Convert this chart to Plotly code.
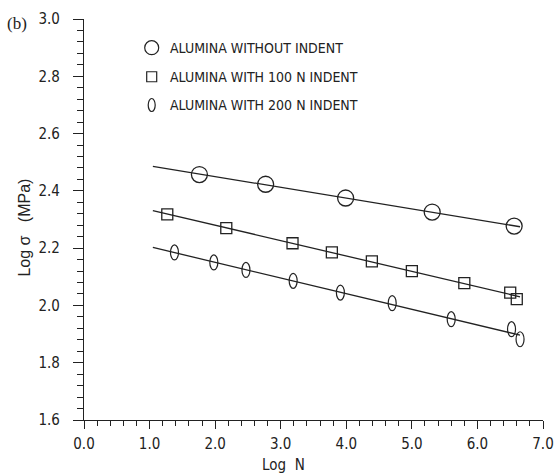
import numpy as np
import plotly.graph_objects as go

# ---- data ----
no_indent_logN = [1.76, 2.77, 3.99, 5.31, 6.56]
no_indent_logS = [2.457, 2.423, 2.375, 2.326, 2.277]

indent100_logN = [1.27, 2.17, 3.18, 3.78, 4.39, 5.00, 5.80, 6.50, 6.60]
indent100_logS = [2.318, 2.270, 2.217, 2.185, 2.154, 2.120, 2.078, 2.045, 2.022]

indent200_logN = [1.38, 1.98, 2.47, 3.19, 3.91, 4.70, 5.60, 6.52, 6.65]
indent200_logS = [2.185, 2.150, 2.124, 2.086, 2.045, 2.008, 1.952, 1.917, 1.882]

fit_range = [1.05, 6.65]

series_names = ["ALUMINA WITHOUT INDENT", "ALUMINA WITH 100 N INDENT", "ALUMINA WITH 200 N INDENT"]

x_ticks = [0, 1, 2, 3, 4, 5, 6, 7]
x_ticklabels = ["0.0", "1.0", "2.0", "3.0", "4.0", "5.0", "6.0", "7.0"]
y_ticks = [1.6, 1.8, 2.0, 2.2, 2.4, 2.6, 2.8, 3.0]
y_ticklabels = ["1.6", "1.8", "2.0", "2.2", "2.4", "2.6", "2.8", "3.0"]

INK = "#222222"
FONT = "Liberation Sans Narrow, DejaVu Sans Condensed, Liberation Sans"

fig = go.Figure()

# fitted lines
for xs, ys in [(no_indent_logN, no_indent_logS),
               (indent100_logN, indent100_logS),
               (indent200_logN, indent200_logS)]:
    k, b = np.polyfit(xs, ys, 1)
    fx = np.array(fit_range)
    fig.add_trace(go.Scatter(x=fx, y=k * fx + b, mode="lines",
                             line=dict(color=INK, width=1.3),
                             showlegend=False, hoverinfo="skip"))

fig.add_trace(go.Scatter(x=no_indent_logN, y=no_indent_logS, mode="markers",
                         name=series_names[0],
                         marker=dict(symbol="circle-open", size=16,
                                     line=dict(color=INK, width=1.3), color=INK),
                         showlegend=False))
fig.add_trace(go.Scatter(x=indent100_logN, y=indent100_logS, mode="markers",
                         name=series_names[1],
                         marker=dict(symbol="square-open", size=11,
                                     line=dict(color=INK, width=1.3), color=INK),
                         showlegend=False))

shapes = []
# ellipse markers for 200 N indent
for xv, yv in zip(indent200_logN, indent200_logS):
    shapes.append(dict(type="circle", xref="x", yref="y",
                       xsizemode="pixel", ysizemode="pixel",
                       xanchor=xv, yanchor=yv,
                       x0=-4, x1=4, y0=-7.5, y1=7.5,
                       line=dict(color=INK, width=1.2)))

# manual legend
leg_x = 0.1475
leg_rows = [0.9284, 0.856, 0.7855]
shapes.append(dict(type="circle", xref="paper", yref="paper",
                   xsizemode="pixel", ysizemode="pixel",
                   xanchor=leg_x, yanchor=leg_rows[0],
                   x0=-7, x1=7, y0=-7, y1=7, line=dict(color=INK, width=1.2)))
shapes.append(dict(type="rect", xref="paper", yref="paper",
                   xsizemode="pixel", ysizemode="pixel",
                   xanchor=leg_x, yanchor=leg_rows[1],
                   x0=-5, x1=5, y0=-5, y1=5, line=dict(color=INK, width=1.2)))
shapes.append(dict(type="circle", xref="paper", yref="paper",
                   xsizemode="pixel", ysizemode="pixel",
                   xanchor=leg_x, yanchor=leg_rows[2],
                   x0=-3.5, x1=3.5, y0=-6.5, y1=6.5, line=dict(color=INK, width=1.2)))

annotations = []
for name, yr in zip(series_names, leg_rows):
    annotations.append(dict(text=name, xref="paper", yref="paper",
                            x=0.183, y=yr, xanchor="left", yanchor="middle",
                            showarrow=False,
                            font=dict(family=FONT, size=14, color=INK)))
annotations.append(dict(text="Log σ   (MPa)", xref="paper", yref="paper",
                        x=-0.1285, y=0.48, textangle=-90,
                        xanchor="center", yanchor="middle", showarrow=False,
                        font=dict(family="Liberation Sans", size=16, color=INK)))
annotations.append(dict(text="Log  N", xref="paper", yref="paper",
                        x=0.434, y=-0.112, xanchor="center", yanchor="middle",
                        showarrow=False,
                        font=dict(family=FONT, size=15, color=INK)))
annotations.append(dict(text="(b)", xref="paper", yref="paper",
                        x=-0.146, y=0.99, xanchor="center", yanchor="middle",
                        showarrow=False,
                        font=dict(family="Liberation Serif", size=17, color=INK)))

fig.update_layout(
    width=557, height=474,
    margin=dict(l=84, r=14, t=19, b=54, autoexpand=False),
    paper_bgcolor="white", plot_bgcolor="white",
    shapes=shapes, annotations=annotations,
    showlegend=False,
    xaxis=dict(range=[0, 7], tickvals=x_ticks, ticktext=x_ticklabels,
               automargin=False,
               showgrid=False, zeroline=False, showline=True,
               linecolor=INK, linewidth=1.3,
               ticks="outside", ticklen=8, tickwidth=1.3, tickcolor=INK,
               ticklabelstandoff=2,
               minor=dict(dtick=0.2, ticks="outside", ticklen=5,
                          tickwidth=1, tickcolor=INK, showgrid=False),
               tickfont=dict(family=FONT, size=15, color=INK)),
    yaxis=dict(range=[1.6, 3.0], tickvals=y_ticks, ticktext=y_ticklabels,
               automargin=False,
               showgrid=False, zeroline=False, showline=True,
               linecolor=INK, linewidth=1.3,
               ticks="outside", ticklen=10, tickwidth=1.3, tickcolor=INK,
               ticklabelstandoff=10,
               minor=dict(dtick=0.04, ticks="outside", ticklen=6,
                          tickwidth=1, tickcolor=INK, showgrid=False),
               tickfont=dict(family=FONT, size=15, color=INK)),
)

fig.write_html("out.html",
               config={"displayModeBar": False},
               post_script="document.body.style.margin='0';document.body.style.padding='0';")
